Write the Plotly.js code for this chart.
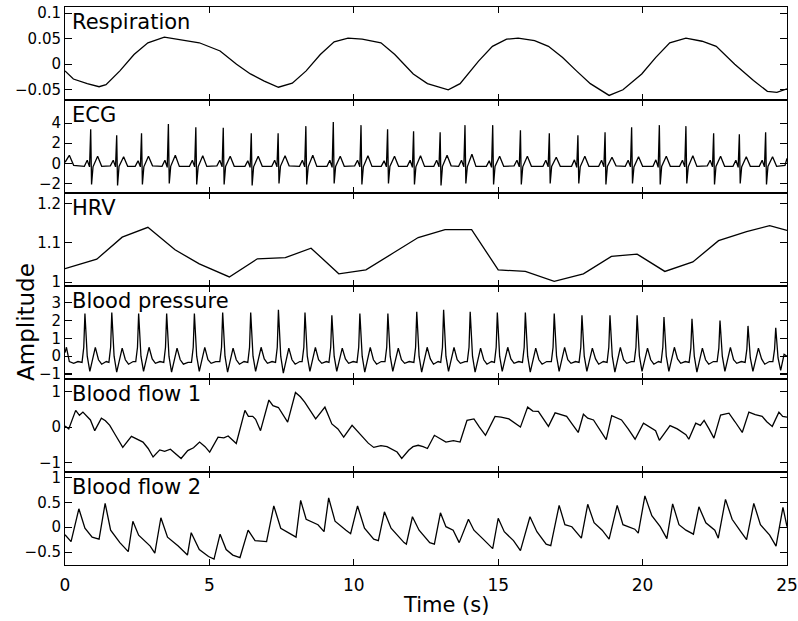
<!DOCTYPE html>
<html>
<head>
<meta charset="utf-8">
<script src="https://cdn.plot.ly/plotly-3.0.1.min.js"></script>
<style>
html,body{margin:0;padding:0;background:#fff;}
#chart{width:798px;height:621px;}
</style>
</head>
<body>
<div id="chart"></div>
<script>
// ---------- data ----------
const panelNames = ["Respiration", "ECG", "HRV", "Blood pressure", "Blood flow 1", "Blood flow 2"];
const xTickVals = [0, 5, 10, 15, 20, 25];

const respT = [0,0.29,0.77,1.18,1.42,1.9,2.39,2.87,3.44,4.0,4.65,5.37,5.94,6.42,6.9,7.39,7.87,8.35,8.84,9.32,9.8,10.29,10.94,11.42,12.06,12.55,13.27,13.68,14.32,14.8,15.29,15.69,16.26,16.74,17.23,17.71,18.19,18.84,19.32,19.97,20.45,20.94,21.5,22.06,22.55,23.19,23.84,24.32,24.65,25];
const respV = [-0.013,-0.029,-0.038,-0.044,-0.040,-0.013,0.019,0.042,0.053,0.048,0.042,0.026,0.0,-0.019,-0.033,-0.045,-0.037,-0.013,0.019,0.044,0.051,0.049,0.042,0.019,-0.019,-0.038,-0.050,-0.038,0.006,0.035,0.049,0.051,0.046,0.035,0.013,-0.013,-0.038,-0.061,-0.050,-0.019,0.013,0.042,0.051,0.045,0.035,0.0,-0.032,-0.053,-0.055,-0.048];

const ecgT = [0,0.15,0.3,0.5,
0.67,0.77,0.85,0.89,0.92,0.97,1.13,1.27,
1.57,1.67,1.75,1.79,1.82,1.87,2.03,2.17,
2.43,2.53,2.61,2.65,2.68,2.73,2.89,3.03,
3.36,3.46,3.54,3.58,3.61,3.66,3.82,3.96,
4.31,4.41,4.49,4.53,4.56,4.61,4.77,4.91,
5.26,5.36,5.44,5.48,5.51,5.56,5.72,5.86,
6.23,6.33,6.41,6.45,6.48,6.53,6.69,6.83,
7.16,7.26,7.34,7.38,7.41,7.46,7.62,7.76,
8.12,8.22,8.30,8.34,8.37,8.42,8.58,8.72,
9.07,9.17,9.25,9.29,9.32,9.37,9.53,9.67,
10.03,10.13,10.21,10.25,10.28,10.33,10.49,10.63,
10.95,11.05,11.13,11.17,11.20,11.25,11.41,11.55,
11.85,11.95,12.03,12.07,12.10,12.15,12.31,12.45,
12.77,12.87,12.95,12.99,13.02,13.07,13.23,13.37,
13.63,13.73,13.81,13.85,13.88,13.93,14.09,14.23,
14.59,14.69,14.77,14.81,14.84,14.89,15.05,15.19,
15.55,15.65,15.73,15.77,15.80,15.85,16.01,16.15,
16.55,16.65,16.73,16.77,16.80,16.85,17.01,17.15,
17.54,17.64,17.72,17.76,17.79,17.84,18.00,18.14,
18.48,18.58,18.66,18.70,18.73,18.78,18.94,19.08,
19.40,19.50,19.58,19.62,19.65,19.70,19.86,20.00,
20.36,20.46,20.54,20.58,20.61,20.66,20.82,20.96,
21.28,21.38,21.46,21.50,21.53,21.58,21.74,21.88,
22.24,22.34,22.42,22.46,22.49,22.54,22.70,22.84,
23.13,23.23,23.31,23.35,23.38,23.43,23.59,23.73,
24.04,24.14,24.22,24.26,24.29,24.34,24.50,24.64,
24.85,24.93,25.0];
const ecgV = [0.1,0.8,-0.2,-0.25,
-0.3,0.3,-0.35,3.4,-2.1,-0.35,0.7,-0.3,
-0.25,0.3,-0.35,2.8,-2.2,-0.3,0.65,-0.3,
-0.3,0.25,-0.35,3.0,-2.1,-0.35,0.7,-0.25,
-0.3,0.3,-0.4,3.9,-2.0,-0.3,0.8,-0.3,
-0.3,0.3,-0.35,3.6,-2.1,-0.35,0.75,-0.3,
-0.25,0.3,-0.35,3.55,-2.1,-0.3,0.7,-0.3,
-0.3,0.25,-0.4,3.0,-2.2,-0.35,0.7,-0.3,
-0.3,0.3,-0.35,3.0,-2.0,-0.3,0.75,-0.25,
-0.3,0.3,-0.35,3.7,-2.1,-0.35,0.8,-0.3,
-0.3,0.3,-0.4,4.1,-2.0,-0.3,0.7,-0.3,
-0.25,0.3,-0.35,3.8,-2.1,-0.35,0.75,-0.3,
-0.3,0.25,-0.35,3.4,-2.0,-0.3,0.7,-0.3,
-0.3,0.3,-0.4,3.2,-2.1,-0.35,0.75,-0.3,
-0.3,0.3,-0.35,3.1,-2.2,-0.3,0.8,-0.25,
-0.3,0.3,-0.35,3.8,-2.0,-0.35,0.9,-0.3,
-0.3,0.25,-0.4,3.8,-2.1,-0.3,0.7,-0.3,
-0.25,0.3,-0.35,3.3,-2.1,-0.35,0.7,-0.3,
-0.3,0.3,-0.35,3.0,-2.0,-0.3,0.6,-0.3,
-0.3,0.35,-0.4,2.8,-2.0,-0.35,0.7,-0.3,
-0.3,0.3,-0.35,3.1,-2.1,-0.3,0.6,-0.25,
-0.3,0.3,-0.35,3.6,-2.0,-0.35,0.65,-0.3,
-0.3,0.35,-0.4,3.8,-2.1,-0.3,0.7,-0.3,
-0.3,0.3,-0.35,3.7,-2.0,-0.35,0.75,-0.3,
-0.25,0.3,-0.35,3.0,-2.1,-0.3,0.7,-0.3,
-0.3,0.3,-0.4,2.9,-2.0,-0.35,0.65,-0.3,
-0.3,0.3,-0.35,3.1,-2.1,-0.3,0.65,-0.3,
-0.25,-0.2,0.5];

const hrvT = [0,1.1,1.98,2.87,3.81,4.65,5.69,6.66,7.63,8.52,9.48,10.42,11.35,12.23,13.16,14.08,15.0,15.94,16.94,17.95,18.92,19.81,20.77,21.74,22.63,23.6,24.4,25];
const hrvV = [1.034,1.058,1.114,1.139,1.082,1.046,1.013,1.059,1.062,1.086,1.021,1.031,1.073,1.113,1.133,1.133,1.031,1.027,1.002,1.021,1.065,1.071,1.027,1.051,1.105,1.128,1.143,1.131];

const bpT = [0,0.05,0.15,0.3,0.45,
0.59,0.65,0.69,0.77,0.86,1.05,1.16,1.27,1.43,
1.52,1.58,1.62,1.70,1.79,1.98,2.09,2.20,2.36,
2.45,2.51,2.55,2.63,2.72,2.91,3.02,3.13,3.29,
3.42,3.48,3.52,3.60,3.69,3.88,3.99,4.10,4.26,
4.38,4.44,4.48,4.56,4.65,4.84,4.95,5.06,5.22,
5.36,5.42,5.46,5.54,5.63,5.82,5.93,6.04,6.20,
6.33,6.39,6.43,6.51,6.60,6.79,6.90,7.01,7.17,
7.29,7.35,7.39,7.47,7.56,7.75,7.86,7.97,8.13,
8.21,8.27,8.31,8.39,8.48,8.67,8.78,8.89,9.05,
9.14,9.20,9.24,9.32,9.41,9.60,9.71,9.82,9.98,
10.11,10.17,10.21,10.29,10.38,10.57,10.68,10.79,10.95,
11.08,11.14,11.18,11.26,11.35,11.54,11.65,11.76,11.92,
12.08,12.14,12.18,12.26,12.35,12.54,12.65,12.76,12.92,
13.01,13.07,13.11,13.19,13.28,13.47,13.58,13.69,13.85,
13.93,13.99,14.03,14.11,14.20,14.39,14.50,14.61,14.77,
14.87,14.93,14.97,15.05,15.14,15.33,15.44,15.55,15.71,
15.84,15.90,15.94,16.02,16.11,16.30,16.41,16.52,16.68,
16.84,16.90,16.94,17.02,17.11,17.30,17.41,17.52,17.68,
17.80,17.86,17.90,17.98,18.07,18.26,18.37,18.48,18.64,
18.77,18.83,18.87,18.95,19.04,19.23,19.34,19.45,19.61,
19.71,19.77,19.81,19.89,19.98,20.17,20.28,20.39,20.55,
20.64,20.70,20.74,20.82,20.91,21.10,21.21,21.32,21.48,
21.61,21.67,21.71,21.79,21.88,22.07,22.18,22.29,22.45,
22.58,22.64,22.68,22.76,22.85,23.04,23.15,23.26,23.42,
23.55,23.61,23.65,23.73,23.82,24.01,24.12,24.23,24.39,
24.51,24.57,24.61,24.69,24.78,24.90,25.0];
const bpV = [0.2,0.5,-0.3,-0.4,-0.3,
-0.35,0.5,2.4,0.0,-0.85,0.5,-0.2,-0.45,-0.3,
-0.35,0.5,2.45,0.0,-0.9,0.45,-0.2,-0.45,-0.3,
-0.3,0.5,2.4,0.0,-0.85,0.5,-0.15,-0.4,-0.3,
-0.35,0.5,2.4,0.0,-0.9,0.45,-0.2,-0.45,-0.35,
-0.35,0.5,2.4,0.0,-0.85,0.5,-0.2,-0.4,-0.3,
-0.3,0.5,2.45,0.0,-0.9,0.45,-0.2,-0.45,-0.3,
-0.35,0.5,2.45,0.0,-0.85,0.5,-0.15,-0.4,-0.3,
-0.35,0.5,2.6,0.0,-0.95,0.45,-0.2,-0.45,-0.3,
-0.3,0.5,2.45,0.0,-0.85,0.5,-0.2,-0.4,-0.3,
-0.35,0.5,2.3,0.0,-0.85,0.45,-0.15,-0.4,-0.3,
-0.35,0.5,2.4,0.0,-0.9,0.5,-0.2,-0.45,-0.3,
-0.3,0.5,2.4,0.0,-0.85,0.45,-0.2,-0.4,-0.3,
-0.35,0.5,2.5,0.0,-0.9,0.5,-0.15,-0.45,-0.3,
-0.35,0.5,2.6,0.0,-0.85,0.5,-0.2,-0.4,-0.3,
-0.3,0.5,2.5,0.0,-0.9,0.45,-0.2,-0.45,-0.3,
-0.35,0.5,2.45,0.0,-0.85,0.5,-0.15,-0.4,-0.3,
-0.35,0.5,2.45,0.0,-0.9,0.45,-0.2,-0.45,-0.3,
-0.3,0.5,2.4,0.0,-0.85,0.5,-0.2,-0.4,-0.3,
-0.35,0.5,2.3,0.0,-0.85,0.45,-0.15,-0.45,-0.3,
-0.35,0.5,2.3,0.0,-0.9,0.5,-0.2,-0.4,-0.3,
-0.3,0.5,2.3,0.0,-0.85,0.45,-0.2,-0.45,-0.3,
-0.35,0.5,2.2,0.0,-0.85,0.5,-0.15,-0.4,-0.3,
-0.35,0.45,2.1,0.0,-0.9,0.45,-0.2,-0.45,-0.3,
-0.3,0.45,2.0,0.0,-0.85,0.5,-0.2,-0.4,-0.3,
-0.35,0.4,1.7,-0.1,-0.85,0.45,-0.15,-0.45,-0.3,
-0.3,0.4,1.6,-0.1,-0.8,0.1,0.0];

const bf1T = [0,0.13,0.37,0.5,0.62,0.75,0.88,1.03,1.26,1.4,1.55,1.73,2.0,2.3,2.5,2.7,2.88,3.05,3.28,3.45,3.65,3.85,4.02,4.25,4.45,4.66,4.85,5.01,5.3,5.5,5.65,5.93,6.23,6.35,6.5,6.6,6.77,7.06,7.2,7.39,7.55,7.71,7.98,8.15,8.3,8.5,8.68,9.0,9.24,9.45,9.65,9.94,10.1,10.29,10.5,10.69,10.94,11.15,11.34,11.5,11.66,11.9,12.05,12.23,12.4,12.55,12.79,13.0,13.19,13.45,13.68,13.92,14.16,14.35,14.56,14.89,15.1,15.37,15.6,15.77,16.02,16.2,16.39,16.55,16.74,16.97,17.15,17.37,17.55,17.77,17.95,18.1,18.3,18.5,18.74,18.93,19.1,19.27,19.5,19.74,20.03,20.3,20.45,20.58,20.95,21.2,21.5,21.6,21.84,22.0,22.13,22.3,22.47,22.7,22.99,23.2,23.45,23.68,23.9,24.14,24.3,24.49,24.72,24.85,25];
const bf1V = [0.03,-0.05,0.47,0.33,0.42,0.3,0.2,-0.1,0.25,0.18,0.05,-0.2,-0.57,-0.26,-0.35,-0.42,-0.6,-0.84,-0.64,-0.68,-0.62,-0.75,-0.88,-0.66,-0.58,-0.42,-0.55,-0.7,-0.28,-0.3,-0.25,-0.46,0.47,0.3,0.3,0.22,-0.1,0.76,0.6,0.55,0.35,0.14,0.97,0.85,0.7,0.45,0.23,0.56,0.09,-0.05,-0.28,0.05,-0.1,-0.28,-0.45,-0.57,-0.52,-0.55,-0.63,-0.7,-0.88,-0.65,-0.55,-0.51,-0.55,-0.6,-0.23,-0.33,-0.42,-0.38,-0.42,0.19,0.23,0.0,-0.23,0.3,0.28,0.23,0.1,0.0,0.56,0.45,0.44,0.25,0.02,0.4,0.35,0.3,0.1,-0.15,0.36,0.25,0.2,-0.05,-0.35,0.32,0.25,0.2,-0.05,-0.34,0.11,-0.03,-0.1,-0.37,0.04,-0.05,-0.21,-0.34,0.11,0.05,0.19,-0.05,-0.31,0.34,0.39,0.15,-0.15,0.42,0.35,0.3,0.15,0.02,0.42,0.3,0.28];

const bf2T = [0,0.21,0.48,0.69,0.94,1.18,1.39,1.58,1.9,2.19,2.35,2.55,2.95,3.11,3.32,3.55,3.92,4.24,4.37,4.65,4.97,5.16,5.37,5.58,5.81,6.06,6.34,6.58,6.98,7.23,7.47,7.87,8.0,8.16,8.35,8.76,8.97,9.13,9.35,9.73,9.89,10.13,10.37,10.69,10.85,11.06,11.29,11.74,11.82,12.03,12.26,12.63,12.79,13.0,13.19,13.44,13.65,13.97,14.16,14.48,14.81,15.0,15.21,15.53,15.77,16.1,16.34,16.66,16.82,17.11,17.31,17.55,17.88,18.1,18.32,18.6,18.84,19.12,19.32,19.73,19.85,20.08,20.32,20.61,20.84,21.04,21.26,21.5,21.76,21.95,22.19,22.5,22.62,22.87,23.1,23.4,23.6,23.85,24.08,24.4,24.62,24.86,25];
const bf2V = [-0.15,-0.29,0.37,-0.02,-0.2,-0.24,0.48,-0.06,-0.31,-0.49,0.12,-0.16,-0.38,-0.52,0.19,-0.2,-0.38,-0.56,-0.11,-0.45,-0.59,-0.64,-0.14,-0.45,-0.56,-0.61,-0.06,-0.27,-0.29,0.43,-0.02,-0.16,-0.2,0.54,0.16,0.05,-0.09,0.59,0.12,-0.06,-0.13,0.43,-0.02,-0.24,-0.27,0.31,-0.02,-0.31,-0.34,0.21,-0.06,-0.31,-0.34,0.29,0.01,-0.06,-0.31,0.16,-0.06,-0.24,-0.43,0.18,-0.09,-0.27,-0.47,0.21,-0.09,-0.34,-0.37,0.44,0.05,0.01,-0.22,0.46,0.09,-0.06,-0.24,0.44,0.05,-0.04,-0.12,0.63,0.23,0.01,-0.23,0.47,0.05,-0.06,-0.14,0.41,0.09,-0.06,-0.22,0.56,0.16,-0.09,-0.25,0.48,0.05,-0.16,-0.38,0.4,0.01];

const yRanges = [[-0.07, 0.112], [-2.95, 6.3], [0.99, 1.226], [-1.28, 3.94], [-1.26, 1.35], [-0.76, 1.11]];
const yTicks = [[-0.05, 0, 0.05, 0.1], [-2, 0, 2, 4], [1, 1.1, 1.2], [-1, 0, 1, 2, 3], [-1, 0, 1], [-0.5, 0, 0.5, 1]];

// ---------- figure ----------
const seriesT = [respT, ecgT, hrvT, bpT, bf1T, bf2T];
const seriesV = [respV, ecgV, hrvV, bpV, bf1V, bf2V];
const FONT = "DejaVu Sans, Liberation Sans, Arial, sans-serif";
const n = panelNames.length;

const traces = [];
const layout = {
  width: 798, height: 621,
  margin: {l: 65, r: 11, t: 7, b: 56},
  paper_bgcolor: "#fff", plot_bgcolor: "#fff",
  showlegend: false,
  font: {family: FONT, size: 15, color: "#000"},
  annotations: []
};

for (let i = 0; i < n; i++) {
  const k = i + 1;
  const xa = k === 1 ? "x" : "x" + k;
  const ya = k === 1 ? "y" : "y" + k;
  traces.push({
    x: seriesT[i], y: seriesV[i], xaxis: xa, yaxis: ya,
    type: "scatter", mode: "lines",
    line: {color: "#000", width: 1.3},
    hoverinfo: "skip"
  });
  const top = 1 - i / n, bot = 1 - (i + 1) / n;
  layout[k === 1 ? "xaxis" : "xaxis" + k] = {
    anchor: ya, range: [0, 25], tickvals: xTickVals,
    ticks: "inside", ticklen: 6, tickwidth: 1.1, tickcolor: "#000",
    showline: true, linecolor: "#000", linewidth: 1, mirror: "ticks",
    showgrid: false, zeroline: false,
    showticklabels: k === n,
    ticklabelstandoff: 5,
    tickfont: {family: FONT, size: 17, color: "#000"},
    matches: k === 1 ? undefined : "x"
  };
  layout[k === 1 ? "yaxis" : "yaxis" + k] = {
    anchor: xa, domain: [bot, top], range: yRanges[i], tickvals: yTicks[i],
    ticks: "inside", ticklen: 7, tickwidth: 1.1, tickcolor: "#000",
    showline: true, linecolor: "#000", linewidth: 1, mirror: "ticks",
    showgrid: false, zeroline: false,
    tickfont: {family: FONT, size: 15, color: "#000"}
  };
  layout.annotations.push({
    text: panelNames[i], showarrow: false,
    xref: "paper", x: 0, xanchor: "left", xshift: 5,
    yref: "paper", y: top, yanchor: "top", yshift: -1,
    font: {family: FONT, size: 21, color: "#000"}
  });
}

layout.annotations.push({
  text: "Amplitude", showarrow: false, textangle: -90,
  xref: "paper", x: -0.055, xanchor: "center",
  yref: "paper", y: 0.436, yanchor: "middle",
  font: {family: FONT, size: 23, color: "#000"}
});
layout.annotations.push({
  text: "Time (s)", showarrow: false,
  xref: "paper", x: 0.528, xanchor: "center",
  yref: "paper", y: -0.072, yanchor: "middle",
  font: {family: FONT, size: 21, color: "#000"}
});

Plotly.newPlot("chart", traces, layout, {displayModeBar: false, staticPlot: true});
</script>
</body>
</html>
